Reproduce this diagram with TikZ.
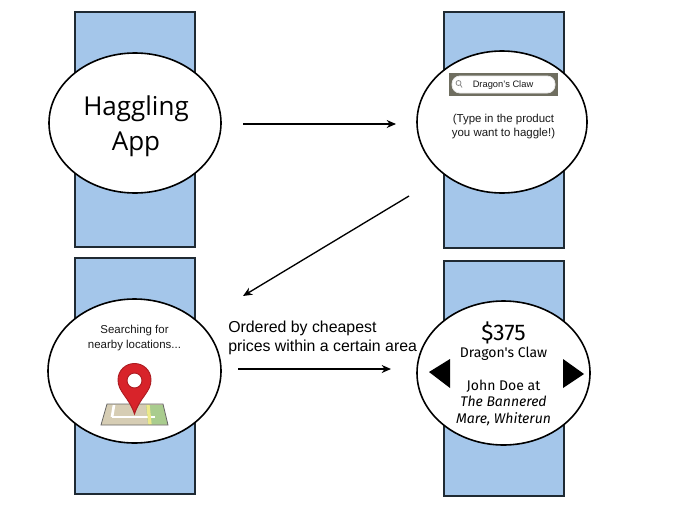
\documentclass[tikz,border=0pt]{standalone}
\usepackage{fontspec}
\setmainfont{Liberation Sans}
\newfontfamily\watchfont{Fira Sans}
\newfontfamily\appfont{Open Sans}
\usetikzlibrary{arrows.meta,shapes.geometric}
\definecolor{bandblue}{HTML}{A4C6EA}
\definecolor{bandline}{HTML}{1F2A33}
\definecolor{pinred}{HTML}{D8232A}
\definecolor{mapsand}{HTML}{D6CDB4}
\definecolor{mapgreen}{HTML}{A9CC8E}
\definecolor{mapyellow}{HTML}{EDE98A}
\definecolor{searchgrey}{HTML}{6F6E60}
\tikzset{
  band/.style={draw=bandline,line width=1.1pt,fill=bandblue},
  face/.style={draw=black,line width=1.2pt,fill=white},
  flow/.style={draw=black,line width=1pt,-{Stealth[length=7pt,width=6pt]}},
  lbl/.style={align=center,inner sep=0pt,text=black!90},
  tri/.style={fill=black,draw=none}
}
\begin{document}
\begin{tikzpicture}[x=0.75pt,y=-0.75pt]
\useasboundingbox (0,0) rectangle (680,510);
% bands
\draw[band] (75,12) rectangle (195,247);
\draw[band] (444,12) rectangle (564,248);
\draw[band] (75,258) rectangle (195,494);
\draw[band] (444,261) rectangle (564,496);
% faces
\draw[face] (135,123) ellipse [x radius=86,y radius=70];
\draw[face] (502,122) ellipse [x radius=85,y radius=71];
\draw[face] (134.5,371) ellipse [x radius=86.5,y radius=72];
\draw[face] (503.5,373) ellipse [x radius=86.5,y radius=72];
% face 1
\node[lbl,text=black,font=\appfont\fontsize{19.5pt}{26pt}\selectfont] (app) at (136,126) {Haggling\\App};
% face 2
\fill[searchgrey] (449,73) rectangle (558,96);
\draw[white!92!black,fill=white,line width=.6pt,rounded corners=6pt] (452,76) rectangle (555,93);
\draw[black!45,line width=.6pt] (458.5,83) circle (2.5) (460.5,85) -- (462,87.5);
\node[lbl,font=\fontsize{7pt}{8pt}\selectfont] (search) at (503,85.5) {Dragon's Claw};
\node[lbl,font=\fontsize{8.6pt}{10.8pt}\selectfont] (hint) at (503.5,126.5) {(Type in the product\\you want to haggle!)};
% face 3
\node[lbl,font=\fontsize{8.6pt}{11pt}\selectfont] (searching) at (134.5,338) {Searching for\\nearby locations...};
\fill[mapsand] (107,404) -- (163,404) -- (168,425) -- (101,425) -- cycle;
\fill[mapgreen] (146,405) -- (163,405) -- (167.5,424.5) -- (148,424.5) -- cycle;
\draw[white,line width=2pt] (112,417) -- (155,417);
\draw[white,line width=2pt] (112,417) -- (114,405);
\draw[mapyellow,line width=2.5pt] (148,405) -- (150,424.5);
\draw[black!60,line width=.6pt] (107,404) -- (163,404) -- (168,425) -- (101,425) -- cycle;
\draw[pinred!80!black,fill=pinred,line width=.7pt,even odd rule]
  (134.5,414) .. controls (129,397) and (118,392) .. (118,380)
  .. controls (118,370) and (126,363.5) .. (134.5,363.5)
  .. controls (143,363.5) and (151,370) .. (151,380)
  .. controls (151,392) and (140,397) .. (134.5,414) -- cycle
  (134.5,380.5) circle (7.5);
% face 4
\node[lbl,text=black,font=\watchfont\fontsize{17pt}{18pt}\selectfont] (price) at (503.5,333) {\$375};
\node[lbl,text=black,font=\watchfont\fontsize{10.5pt}{12pt}\selectfont] (product) at (503.5,354) {Dragon's Claw};
\node[lbl,text=black,font=\watchfont\fontsize{10.5pt}{12.4pt}\selectfont] (seller) at (503.5,402.5) {John Doe at\\\itshape The Bannered\\\itshape Mare, Whiterun};
\fill[tri] (429,372) -- (450,359) -- (450,388) -- cycle;
\fill[tri] (563,359) -- (584,374) -- (563,388) -- cycle;
% connectors
\coordinate (a1) at (243,124);
\coordinate (a2) at (396,124);
\coordinate (b1) at (409,196);
\coordinate (b2) at (243,296);
\coordinate (c1) at (238,369);
\coordinate (c2) at (391,369);
\draw[flow] (a1) -- (a2);
\draw[flow] (b1) -- (b2);
\draw[flow] (c1) -- (c2);
\node[lbl,anchor=west,text=black,font=\fontsize{11.9pt}{14.6pt}\selectfont,align=left] (note) at (228,338) {Ordered by cheapest\\prices within a certain area};
\end{tikzpicture}
\end{document}
